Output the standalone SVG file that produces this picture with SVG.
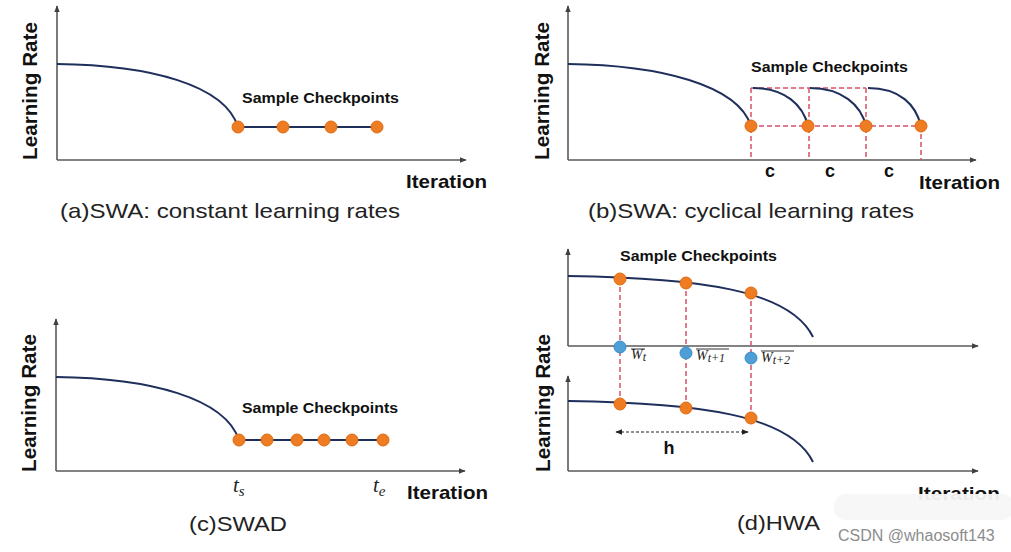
<svg xmlns="http://www.w3.org/2000/svg" width="1011" height="552" viewBox="0 0 1011 552">
<defs>
<marker id="ah" viewBox="0 0 10 10" refX="9" refY="5" markerWidth="7" markerHeight="7" orient="auto" markerUnits="userSpaceOnUse"><path d="M0,1 L10,5 L0,9 z" fill="#404040"/></marker>
<marker id="sh" viewBox="0 0 10 10" refX="9" refY="5" markerWidth="7" markerHeight="7" orient="auto-start-reverse" markerUnits="userSpaceOnUse"><path d="M0,1 L10,5 L0,9 z" fill="#222"/></marker>
<style>
.ax{stroke:#5a5a5a;stroke-width:1.6;fill:none;marker-end:url(#ah)}
.cv{stroke:#1f2f5c;stroke-width:2;fill:none}
.rd{stroke:#d9506a;stroke-width:1.5;stroke-dasharray:5,3;fill:none}
.dot{fill:#ee7c22;stroke:#e06a10;stroke-width:1}
.bdot{fill:#4e9fd6;stroke:#3b8cc6;stroke-width:1}
.lbl{font-family:"Liberation Sans",Arial,sans-serif;font-weight:bold;fill:#111}
.cap{font-family:"Liberation Sans",Arial,sans-serif;fill:#222;font-size:21px}
.math{font-family:"Liberation Serif","DejaVu Serif",serif;font-style:italic;fill:#222}
</style>
</defs>
<rect width="1011" height="552" fill="#fff"/>

<g id="panel-a">
<line class="ax" x1="57" y1="160" x2="57" y2="6"/>
<line class="ax" x1="57" y1="160" x2="466" y2="160"/>
<path class="cv" d="M57,64 C150,65 225,85 238,127 L377,127"/>
<circle class="dot" cx="238" cy="127" r="6"/>
<circle class="dot" cx="283" cy="127" r="6"/>
<circle class="dot" cx="331" cy="127" r="6"/>
<circle class="dot" cx="377" cy="127" r="6"/>
<text class="lbl" x="242" y="103" font-size="15" textLength="157" lengthAdjust="spacingAndGlyphs">Sample Checkpoints</text>
<text class="lbl" transform="translate(37,160) rotate(-90)" font-size="21" textLength="138" lengthAdjust="spacingAndGlyphs">Learning Rate</text>
<text class="lbl" x="406" y="188" font-size="19" textLength="81" lengthAdjust="spacingAndGlyphs">Iteration</text>
<text class="cap" x="60" y="218" textLength="340" lengthAdjust="spacingAndGlyphs">(a)SWA: constant learning rates</text>
</g>

<g id="panel-b">
<line class="ax" x1="568" y1="160" x2="568" y2="6"/>
<line class="ax" x1="568" y1="160" x2="976" y2="160"/>
<g id="b-guides">
<line class="rd" x1="751" y1="88" x2="866" y2="88"/>
<line class="rd" x1="751" y1="126" x2="921" y2="126"/>
<line class="rd" x1="751" y1="88" x2="751" y2="160"/>
<line class="rd" x1="809" y1="88" x2="809" y2="160"/>
<line class="rd" x1="866" y1="88" x2="866" y2="160"/>
<line class="rd" x1="921" y1="126" x2="921" y2="160"/>
</g>
<path class="cv" d="M568,64 C660,65 738,85 751,126"/>
<path class="cv" d="M753,88 C785,88 803,105 808,126"/>
<path class="cv" d="M810,88 C842,88 861,105 866,126"/>
<path class="cv" d="M868,88 C900,88 916,105 921,126"/>
<circle class="dot" cx="751" cy="126" r="6"/>
<circle class="dot" cx="808" cy="126" r="6"/>
<circle class="dot" cx="866" cy="126" r="6"/>
<circle class="dot" cx="921" cy="126" r="6"/>
<text class="lbl" x="751" y="72" font-size="15" textLength="157" lengthAdjust="spacingAndGlyphs">Sample Checkpoints</text>
<text class="lbl" x="770" y="177" font-size="18" text-anchor="middle">c</text>
<text class="lbl" x="830" y="177" font-size="18" text-anchor="middle">c</text>
<text class="lbl" x="889" y="177" font-size="18" text-anchor="middle">c</text>
<text class="lbl" transform="translate(549,160) rotate(-90)" font-size="21" textLength="138" lengthAdjust="spacingAndGlyphs">Learning Rate</text>
<text class="lbl" x="919" y="189" font-size="19" textLength="81" lengthAdjust="spacingAndGlyphs">Iteration</text>
<text class="cap" x="588" y="218" textLength="326" lengthAdjust="spacingAndGlyphs">(b)SWA: cyclical learning rates</text>
</g>

<g id="panel-c">
<line class="ax" x1="56" y1="471" x2="56" y2="319"/>
<line class="ax" x1="56" y1="471" x2="465" y2="471"/>
<path class="cv" d="M56,377 C150,378 225,398 239,440 L383,440"/>
<circle class="dot" cx="239" cy="440" r="6"/>
<circle class="dot" cx="267" cy="440" r="6"/>
<circle class="dot" cx="297" cy="440" r="6"/>
<circle class="dot" cx="324" cy="440" r="6"/>
<circle class="dot" cx="352" cy="440" r="6"/>
<circle class="dot" cx="383" cy="440" r="6"/>
<text class="lbl" x="242" y="413" font-size="15" textLength="156" lengthAdjust="spacingAndGlyphs">Sample Checkpoints</text>
<text class="math" x="233" y="492" font-size="21">t<tspan font-size="15" dy="4">s</tspan></text>
<text class="math" x="373" y="492" font-size="21">t<tspan font-size="15" dy="4">e</tspan></text>
<text class="lbl" transform="translate(36,472) rotate(-90)" font-size="21" textLength="138" lengthAdjust="spacingAndGlyphs">Learning Rate</text>
<text class="lbl" x="407" y="499" font-size="19" textLength="81" lengthAdjust="spacingAndGlyphs">Iteration</text>
<text class="cap" x="189" y="531" textLength="98" lengthAdjust="spacingAndGlyphs">(c)SWAD</text>
</g>

<g id="panel-d">
<line class="ax" x1="568" y1="346" x2="568" y2="249"/>
<line class="ax" x1="568" y1="346" x2="978" y2="346"/>
<line class="ax" x1="568" y1="471" x2="568" y2="376"/>
<line class="ax" x1="568" y1="471" x2="978" y2="471"/>
<g id="d-guides">
<line class="rd" x1="620" y1="279" x2="620" y2="404"/>
<line class="rd" x1="686" y1="283" x2="686" y2="408"/>
<line class="rd" x1="751" y1="293" x2="751" y2="418"/>
</g>
<path class="cv" d="M568,276 C700,278 790,290 813,337"/>
<path class="cv" d="M568,401 C700,403 790,415 813,462"/>
<circle class="dot" cx="620" cy="279" r="6"/>
<circle class="dot" cx="686" cy="283" r="6"/>
<circle class="dot" cx="751" cy="293" r="6"/>
<circle class="dot" cx="620" cy="404" r="6"/>
<circle class="dot" cx="686" cy="408" r="6"/>
<circle class="dot" cx="751" cy="418" r="6"/>
<circle class="bdot" cx="620" cy="347" r="6"/>
<circle class="bdot" cx="686" cy="353" r="6"/>
<circle class="bdot" cx="751" cy="358" r="6"/>
<g id="w-labels" stroke="#333" stroke-width="1">
<line x1="631" y1="349" x2="645" y2="349"/>
<line x1="696" y1="349" x2="729" y2="349"/>
<line x1="761" y1="351" x2="794" y2="351"/>
</g>
<text class="math" x="631" y="359" font-size="14">W<tspan font-size="12" dy="2">t</tspan></text>
<text class="math" x="696" y="360" font-size="14">W<tspan font-size="12" dy="2">t+1</tspan></text>
<text class="math" x="761" y="362" font-size="14">W<tspan font-size="12" dy="2">t+2</tspan></text>
<line x1="616" y1="432" x2="748" y2="432" stroke="#222" stroke-width="1.2" stroke-dasharray="3,2" marker-start="url(#sh)" marker-end="url(#sh)"/>
<text class="lbl" x="669" y="454" font-size="18" text-anchor="middle">h</text>
<text class="lbl" x="620" y="261" font-size="15" textLength="157" lengthAdjust="spacingAndGlyphs">Sample Checkpoints</text>
<text class="lbl" transform="translate(550,472) rotate(-90)" font-size="21" textLength="138" lengthAdjust="spacingAndGlyphs">Learning Rate</text>
<text class="lbl" x="918" y="500" font-size="19" textLength="82" lengthAdjust="spacingAndGlyphs">Iteration</text>
<text class="cap" x="737" y="530" textLength="83" lengthAdjust="spacingAndGlyphs">(d)HWA</text>
</g>

<g id="watermark">
<rect x="834" y="494" width="180" height="26" rx="12" fill="#f7f7f7" opacity="0.95"/>
<text x="838" y="541" font-family="'Liberation Sans',Arial,sans-serif" font-size="16" fill="#8c8c8c">CSDN @whaosoft143</text>
</g>
</svg>
